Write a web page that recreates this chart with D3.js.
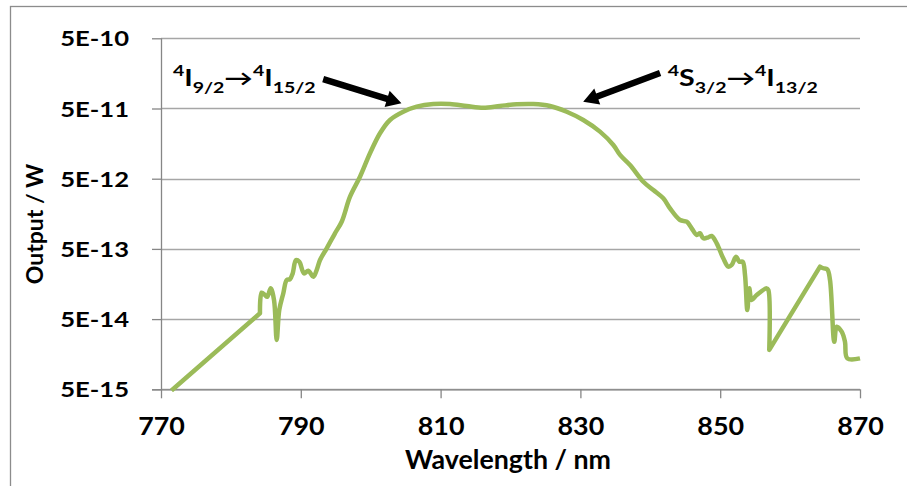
<!DOCTYPE html>
<html><head><meta charset="utf-8">
<script src="https://cdn.jsdelivr.net/npm/d3@7"></script>
<style>
body{margin:0;background:#fff;}
text{font-family:Lato,"Open Sans",sans-serif;font-weight:bold;fill:#000;}
</style>
</head><body>
<svg id="chart" width="907" height="486"></svg>
<script>
// ---- data ----
const wavelength = [771.5, 784.16, 784.4, 784.88, 785.2, 785.69, 786.17, 786.55, 786.92, 787.5,
  787.98, 788.45, 788.84, 789.31, 789.79, 790.46, 791.07, 791.79, 792.27, 792.75,
  793.71, 794.89, 795.85, 797.04, 798.47, 799.9, 801.33, 802.76, 804.66, 806.58,
  808.96, 811.34, 813.73, 816.11, 818.5, 820.89, 823.26, 825.65, 828.04, 830.41,
  832.8, 834.71, 835.67, 837.1, 839.0, 840.43, 841.86, 842.82, 844.25, 845.21,
  845.92, 846.64, 847.1, 847.58, 848.3, 848.78, 849.5, 850.44, 851.16, 851.64,
  852.26, 852.73, 853.22, 853.55, 853.88, 854.16, 854.5, 855.22, 856.65, 856.88,
  857.02, 864.28, 864.75, 865.32, 865.71, 866.32, 866.67, 867.38, 867.85, 868.18, 870.0];
const output = [4.8e-15, 6.05e-14, 1.19e-13, 1.10e-13, 1.04e-13, 1.37e-13, 9.35e-14, 2.52e-14, 6.75e-14, 1.17e-13,
  1.80e-13, 1.85e-13, 2.24e-13, 3.47e-13, 3.29e-13, 2.24e-13, 2.44e-13, 2.01e-13, 2.50e-13, 3.47e-13,
  5.10e-13, 8.34e-13, 1.22e-12, 2.77e-12, 5.33e-12, 1.15e-11, 2.22e-11, 3.43e-11, 4.50e-11, 5.31e-11,
  5.79e-11, 5.79e-11, 5.43e-11, 5.13e-11, 5.43e-11, 5.74e-11, 5.79e-11, 5.43e-11, 4.50e-11, 3.43e-11,
  2.34e-11, 1.51e-11, 1.09e-11, 7.83e-12, 4.53e-12, 3.45e-12, 2.63e-12, 1.89e-12, 1.29e-12, 1.22e-12,
  9.82e-13, 7.89e-13, 8.34e-13, 7.08e-13, 7.31e-13, 7.64e-13, 6.01e-13, 3.67e-13, 2.79e-13, 2.95e-13,
  3.87e-13, 3.29e-13, 3.29e-13, 2.12e-13, 6.75e-14, 1.37e-13, 9.35e-14, 1.10e-13, 1.37e-13, 1.30e-13,
  1.82e-14, 2.79e-13, 2.65e-13, 2.56e-13, 1.80e-13, 2.38e-14, 3.90e-14, 3.31e-14, 2.38e-14, 1.38e-14, 1.38e-14];
const xTicks = [770, 790, 810, 830, 850, 870];
const yTicks = [5e-15, 5e-14, 5e-13, 5e-12, 5e-11, 5e-10];
const yTickLabels = ["5E-15", "5E-14", "5E-13", "5E-12", "5E-11", "5E-10"];
const xTitle = "Wavelength / nm";
const yTitle = "Output / W";
// annotation arrows: tail and tip in data units
const arrowTail = [[793.2, 1.31e-10], [841.4, 1.6e-10]];
const arrowTip = [[804.4, 5.93e-11], [830.4, 6.25e-11]];
// annotation labels: anchor (left, baseline) in data units, parts [text, kind]
const labelAnchor = [[771.7, 1.03e-10], [842.5, 1.03e-10]];
const labelParts = [
  [["4","sup"],["I","main"],["9/2","sub"],["\u2192","main"],["4","sup"],["I","main"],["15/2","sub"]],
  [["4","sup"],["S","main"],["3/2","sub"],["\u2192","main"],["4","sup"],["I","main"],["13/2","sub"]]
];

// ---- layout ----
const svg = d3.select("#chart");
const pL = 161, pR = 860, pT = 38.3, pB = 389.3;
const x = d3.scaleLinear().domain([770, 870]).range([pL, pR]);
const y = d3.scaleLog().domain([5e-15, 5e-10]).range([pB, pT]);

// chart-area border
svg.append("rect").attr("x", 10.5).attr("y", 6.5).attr("width", 920).attr("height", 500)
  .attr("fill", "none").attr("stroke", "#8c8c8c").attr("stroke-width", 1.3);

// gridlines
svg.append("g").selectAll("line").data(yTicks).join("line")
  .attr("x1", pL).attr("x2", pR)
  .attr("y1", d => Math.round(y(d)) + 0.5).attr("y2", d => Math.round(y(d)) + 0.5)
  .attr("stroke", "#a6a6a6").attr("stroke-width", 1.3);

// y axis
const yAxis = d3.axisLeft(y).tickValues(yTicks).tickFormat((d, i) => yTickLabels[i]).tickSize(9).tickPadding(0);
const gy = svg.append("g").attr("transform", `translate(${pL},0)`).call(yAxis);
gy.select(".domain").attr("stroke", "#868686").attr("stroke-width", 1.3).attr("d", `M0.5,${pT}V${pB}`);
gy.selectAll(".tick line").attr("stroke", "#868686").attr("stroke-width", 1.3);
gy.selectAll(".tick text").remove();
gy.selectAll(".tick").append("text")
  .attr("transform", "translate(-32,7.5) scale(1.28,1)")
  .attr("text-anchor", "end").style("font-size", "20px").attr("fill", "#000")
  .text((d, i) => yTickLabels[i]);

// x axis
const xAxis = d3.axisBottom(x).tickValues(xTicks).tickSize(9).tickPadding(0);
const gx = svg.append("g").attr("transform", `translate(0,${pB})`).call(xAxis);
gx.select(".domain").attr("stroke", "#868686").attr("stroke-width", 1.3).attr("d", `M${pL - 9},0.5H${pR}`);
gx.selectAll(".tick line").attr("stroke", "#868686").attr("stroke-width", 1.3);
gx.selectAll(".tick text").remove();
gx.selectAll(".tick").append("text")
  .attr("transform", "translate(0,46) scale(1.12,1)").attr("text-anchor", "middle")
  .style("font-size", "24px").attr("fill", "#000")
  .text(d => d);

// axis titles
svg.append("text").attr("transform", "translate(508,469) scale(1.03,1)").attr("text-anchor", "middle")
  .style("font-size", "26px").text(xTitle);
svg.append("text").attr("transform", "translate(43,224) rotate(-90)").attr("text-anchor", "middle")
  .style("font-size", "23px").text(yTitle);

// data line: smooth within dense runs, straight across wide gaps
svg.append("clipPath").attr("id", "plotclip").append("rect")
  .attr("x", pL).attr("y", pT - 10).attr("width", pR - pL + 4).attr("height", pB - pT + 13);
const pts = wavelength.map((w, i) => [w, output[i]]);
const runs = [];
pts.forEach((p, i) => {
  if (i === 0 || p[0] - pts[i - 1][0] > 5) runs.push([p]); else runs[runs.length - 1].push(p);
});
const smooth = d3.line().x(d => x(d[0])).y(d => y(d[1])).curve(d3.curveCatmullRom.alpha(0.5));
let dStr = "";
runs.forEach((r, i) => {
  let s = r.length > 1 ? smooth(r) : `M${x(r[0][0])},${y(r[0][1])}`;
  if (i > 0) s = "L" + s.slice(1);
  dStr += s;
});
svg.append("path").attr("d", dStr).attr("clip-path", "url(#plotclip)")
  .attr("fill", "none").attr("stroke", "#9bbb59").attr("stroke-width", 4.5)
  .attr("stroke-linejoin", "round").attr("stroke-linecap", "butt");

// arrows
arrowTail.forEach((t, i) => {
  const x0 = x(t[0]), y0 = y(t[1]), x1 = x(arrowTip[i][0]), y1 = y(arrowTip[i][1]);
  const dx = x1 - x0, dy = y1 - y0, L = Math.hypot(dx, dy), ux = dx / L, uy = dy / L;
  const px = -uy, py = ux, hl = 15, hw = 8.5, sw = 3.2;
  const bx = x1 - ux * hl, by = y1 - uy * hl;
  const poly = [
    [x0 + px * sw, y0 + py * sw], [bx + px * sw, by + py * sw], [bx + px * hw, by + py * hw],
    [x1, y1], [bx - px * hw, by - py * hw], [bx - px * sw, by - py * sw], [x0 - px * sw, y0 - py * sw]
  ];
  svg.append("polygon").attr("points", poly.map(p => p.join(",")).join(" ")).attr("fill", "#000");
});

// labels
labelAnchor.forEach((a, i) => {
  const g = svg.append("g").attr("transform", `translate(${x(a[0])},${y(a[1])}) scale(1.3,1)`);
  const t = g.append("text").attr("x", 0).attr("y", 0);
  let prev = "main";
  const off = {main: 0, sup: -10, sub: 7};
  labelParts[i].forEach(([s, k]) => {
    t.append("tspan").attr("dy", off[k] - off[prev]).style("font-size", k === "main" ? "22px" : "15px").text(s);
    prev = k;
  });
});
</script>
</body></html>
